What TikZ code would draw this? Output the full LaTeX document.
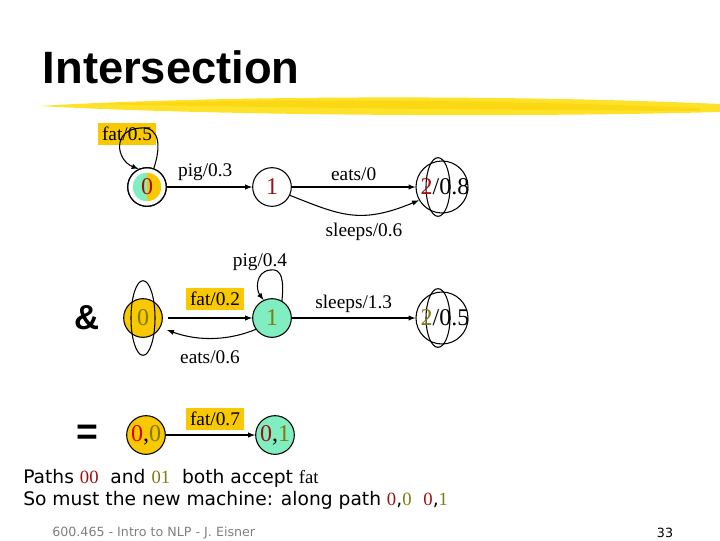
\documentclass[tikz,border=0pt]{standalone}
\usepackage{fontspec}
\setmainfont{Liberation Serif}
\newfontfamily\sans{DejaVu Sans}
\newfontfamily\arial{Liberation Sans}
\begin{document}
\begin{tikzpicture}[x=0.75pt,y=-0.75pt,
  st/.style={circle,draw,thick,minimum size=29pt,inner sep=0pt,font=\fontsize{18}{18}\selectfont},
  lab/.style={font=\fontsize{14.5}{14.5}\selectfont,inner sep=2pt},
  box/.style={lab,fill=orangeY,inner sep=3pt},
  ar/.style={-latex,thick},
  ]
\definecolor{orangeY}{HTML}{F8C800}
\definecolor{mint}{HTML}{80EEC0}
\definecolor{dred}{HTML}{A01010}
\definecolor{olive}{HTML}{807A10}
\useasboundingbox (0,0) rectangle (720,540);
% title
\node[anchor=west,font=\arial\bfseries\fontsize{34}{34}\selectfont] (title) at (38,67) {Intersection};
\fill[yellow!80!orange,opacity=0.85] (40,106) .. controls (200,96) and (500,94) .. (720,104) -- (720,112) .. controls (500,118) and (200,115) .. (40,106) -- cycle;
\fill[yellow!70!orange,opacity=0.6] (90,104) .. controls (300,98) and (500,100) .. (700,108) -- (700,111) .. controls (500,110) and (300,108) .. (90,104) -- cycle;
% machine 1
\node[box] (f05) at (127,134) {fat/0.5};
\node[st] (a0) at (147,187) {};
\begin{scope}
\clip (147,187) circle (10.7pt);
\fill[mint] (129,169) rectangle (147,205);
\fill[orangeY] (147,169) rectangle (165,205);
\end{scope}
\node[st,text=dred] at (147,187) {0};
\draw[thick,-latex] (a0.70) .. controls (160,150) and (162,126) .. (140,128) .. controls (112,130) and (116,160) .. (a0.115);
\node[st,text=dred] (a1) at (272,187) {1};
\node[st,minimum size=39pt] (a2) at (442,187) {};
\draw[thick] (438,187) ellipse (9pt and 22pt);
\node[font=\fontsize{18}{18}\selectfont] at (445,187) {\textcolor{dred}{2}/0.8};
\draw[ar] (a0) -- node[lab,above=2pt,pos=0.45]{pig/0.3} (a1);
\draw[ar] (a1) -- node[lab,above=2pt]{eats/0} (a2.180);
\draw[ar] (a1.-25) .. controls (340,215) and (360,225) .. (a2.-150);
\node[lab] (s06) at (364,232) {sleeps/0.6};
% machine 2
\node[font=\arial\bfseries\fontsize{26}{26}\selectfont] (amp) at (87,318) {\&};
\node[st,fill=orangeY,text=olive] (b0) at (143,318) {0};
\draw[thick] (143,318) ellipse (9pt and 28pt);
\node[st,fill=mint,text=olive] (b1) at (272,318) {1};
\node[st,minimum size=39pt] (b2) at (442,318) {};
\draw[thick] (438,318) ellipse (9pt and 22pt);
\node[font=\fontsize{18}{18}\selectfont] at (445,318) {\textcolor{olive}{2}/0.5};
\node[box] at (215,299) {fat/0.2};
\draw[ar] (168,318) -- (b1);
\draw[thick,-latex] (b1.60) .. controls (284,280) and (282,268) .. (270,270) .. controls (255,272) and (256,290) .. (b1.115);
\node[lab] at (260,262) {pig/0.4};
\draw[ar] (b1.-145) .. controls (230,340) and (200,342) .. (167,330);
\node[lab] at (210,357) {eats/0.6};
\draw[ar] (b1) -- node[lab,above=2pt]{sleeps/1.3} (b2.180);
% result
\node[font=\arial\bfseries\fontsize{28}{28}\selectfont] (eq) at (87,435) {=};
\node[st,fill=orangeY] (c0) at (146,435) {\textcolor{red!85!black}{0},\textcolor{olive}{0}};
\node[st,fill=mint] (c1) at (275,435) {\textcolor{dred}{0},\textcolor{olive}{1}};
\node[box] at (215,419) {fat/0.7};
\draw[ar] (c0) -- (c1);
% texts
\node[anchor=west,font=\sans\fontsize{14}{14}\selectfont,inner sep=0pt] (t1) at (23,478) {Paths \textcolor{dred}{\rmfamily 00}\ \ and \textcolor{olive}{\rmfamily 01}\ \ both accept {\rmfamily fat}};
\node[anchor=west,font=\sans\fontsize{14}{14}\selectfont,inner sep=0pt] (t2) at (23,500) {So must the new machine: along path \textcolor{dred}{\rmfamily 0},\textcolor{olive}{\rmfamily 0}\ \ \textcolor{dred}{\rmfamily 0},\textcolor{olive}{\rmfamily 1}};
\node[anchor=west,font=\sans\fontsize{9.5}{10}\selectfont,text=gray,inner sep=0pt] (ft) at (52,533) {600.465 - Intro to NLP - J. Eisner};
\node[font=\sans\fontsize{9.5}{10}\selectfont,inner sep=0pt] (pn) at (665,533) {33};
\end{tikzpicture}
\end{document}
